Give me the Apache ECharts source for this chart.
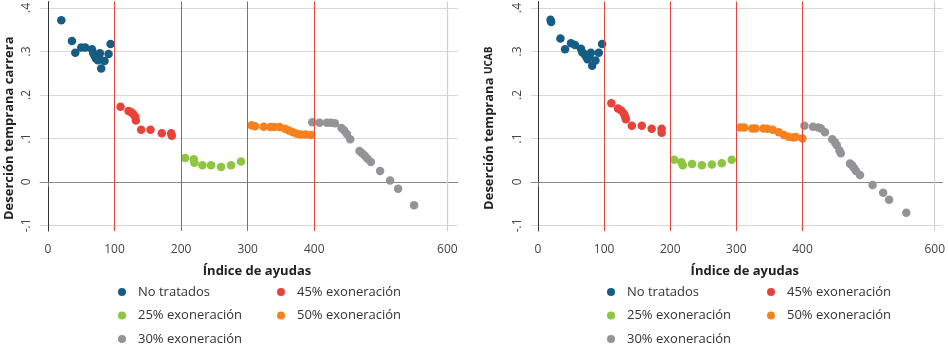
<!DOCTYPE html>
<html><head><meta charset="utf-8">
<script src="https://cdn.jsdelivr.net/npm/echarts@6/dist/echarts.min.js"></script>
<style>html,body{margin:0;padding:0;background:#fff}#c{width:948px;height:347px}</style>
</head><body><div id="c"></div>
<script>
// Left panel: Deserción temprana carrera  [Índice de ayudas, deserción]
const carreraNoTratados = [[20,0.372],[36,0.324],[41,0.297],[50,0.309],[56,0.309],[66,0.305],[68,0.296],[70,0.290],[72,0.284],[75,0.280],[77,0.286],[78,0.296],[80,0.261],[85,0.278],[91,0.294],[94,0.317]];
const carrera45 = [[109,0.173],[121,0.163],[125,0.160],[128,0.156],[131,0.150],[132,0.141],[140,0.120],[154,0.120],[171,0.112],[185,0.112],[186,0.106]];
const carrera25 = [[206,0.055],[219,0.052],[220,0.044],[232,0.038],[245,0.038],[260,0.034],[275,0.038],[290,0.047]];
const carrera50 = [[306,0.130],[311,0.128],[324,0.127],[334,0.126],[340,0.126],[348,0.126],[356,0.122],[362,0.118],[368,0.114],[374,0.111],[380,0.109],[387,0.109],[395,0.108]];
const carrera30 = [[397,0.137],[408,0.136],[419,0.136],[425,0.136],[431,0.135],[441,0.124],[445,0.118],[449,0.110],[454,0.098],[468,0.071],[472,0.066],[476,0.060],[480,0.053],[485,0.046],[499,0.025],[514,0.003],[526,-0.016],[550,-0.054]];
// Right panel: Deserción temprana UCAB
const ucabNoTratados = [[19,0.373],[20,0.368],[34,0.330],[41,0.305],[50,0.319],[56,0.315],[65,0.306],[67,0.298],[70,0.294],[73,0.288],[75,0.282],[78,0.291],[80,0.297],[82,0.267],[87,0.279],[92,0.297],[97,0.317]];
const ucab45 = [[111,0.181],[121,0.169],[126,0.164],[130,0.157],[132,0.150],[133,0.144],[142,0.129],[157,0.129],[172,0.122],[187,0.122],[187,0.113]];
const ucab25 = [[206,0.051],[217,0.045],[219,0.038],[233,0.041],[248,0.038],[263,0.040],[278,0.043],[293,0.051]];
const ucab50 = [[306,0.125],[312,0.125],[324,0.123],[329,0.123],[341,0.123],[347,0.122],[355,0.120],[364,0.114],[372,0.108],[379,0.104],[386,0.102],[390,0.103],[400,0.100]];
const ucab30 = [[403,0.129],[416,0.127],[424,0.125],[428,0.123],[434,0.114],[445,0.098],[449,0.091],[452,0.084],[456,0.072],[458,0.066],[472,0.042],[475,0.038],[478,0.032],[481,0.025],[487,0.016],[506,-0.007],[522,-0.025],[531,-0.041],[557,-0.071]];

const xTicks = [0,100,200,300,400,600];
const yTicks = [-0.1,0,0.1,0.2,0.3,0.4];
const cutoffs = [100,200,300,400];
const seriesNames = ['No tratados','45% exoneración','25% exoneración','50% exoneración','30% exoneración'];
const colors = {'No tratados':'#155d84','45% exoneración':'#e8433a','25% exoneración':'#8dc63f','50% exoneración':'#f5821f','30% exoneración':'#929497'};

const FONT = 'Open Sans';
const chart = echarts.init(document.getElementById('c'));

function xAxis(idx, name) {
  return {
    gridIndex: idx, type: 'value', min: idx===0 ? -12 : -10.5, max: idx===0 ? 616 : 612,
    name: name, nameLocation: 'middle', nameGap: 34,
    nameTextStyle: {fontFamily: FONT, fontWeight: 'bold', fontSize: 13, color: '#222', padding: [0,0,0,16]},
    axisLine: {show: true, lineStyle: {color: '#888', width: 1}},
    axisTick: {show: true, length: 5, customValues: xTicks, lineStyle: {color: '#777'}},
    axisLabel: {customValues: xTicks, fontFamily: FONT, fontSize: 12, color: '#444', margin: 13},
    splitLine: {show: false}
  };
}
function yAxis(idx, name, gap) {
  return {
    gridIndex: idx, type: 'value', min: -0.113, max: 0.415,
    name: name, nameLocation: 'middle', nameGap: gap,
    nameTextStyle: {fontFamily: FONT, fontWeight: 'bold', fontSize: 13, color: '#222', padding: [0,24,0,0],
      rich: {sc: {fontFamily: FONT, fontWeight: 'bold', fontSize: 10, color: '#222'}}},
    axisLine: {show: true, lineStyle: {color: '#333', width: 1}},
    axisTick: {show: false, customValues: yTicks},
    axisLabel: {customValues: yTicks, rotate: 90, fontFamily: FONT, fontSize: 12, color: '#444', margin: 7,
      formatter: v => String(v).replace('0.', '.')},
    splitLine: {show: true, lineStyle: {color: '#d8d8d8', width: 1.2}}
  };
}

const panels = [carreraNoTratados, carrera45, carrera25, carrera50, carrera30];
const panelsR = [ucabNoTratados, ucab45, ucab25, ucab50, ucab30];

function makeSeries(idx, arrs) {
  return arrs.map((d, i) => {
    const s = {
      name: seriesNames[i], type: 'scatter', xAxisIndex: idx, yAxisIndex: idx,
      data: d, symbolSize: 8.5, itemStyle: {color: colors[seriesNames[i]], opacity: 1}
    };
    if (i === 0) {
      s.markLine = {
        silent: true, symbol: 'none', label: {show: false}, animation: false,
        data: cutoffs.map(c => ({xAxis: c, lineStyle: {color: '#e8433a', width: 1, type: 'solid'}}))
          .concat([{xAxis: 600, lineStyle: {color: '#d0d0d0', width: 1.2, type: 'solid'}}])
      };
    }
    return s;
  });
}

function legend(left, names) {
  return {
    orient: 'vertical', left: left, top: 285, height: 80, padding: 0,
    itemWidth: 22, itemHeight: 8, itemGap: 9.5,
    icon: 'circle', data: names,
    textStyle: {fontFamily: FONT, fontSize: 13, color: '#333', lineHeight: 14}
  };
}

chart.setOption({
  animation: false,
  textStyle: {fontFamily: FONT},
  grid: [
    {left: 40, top: 1, width: 418, height: 230},
    {left: 531, top: 1, width: 414, height: 230}
  ],
  xAxis: [xAxis(0, 'Índice de ayudas'), xAxis(1, 'Índice de ayudas')],
  yAxis: [yAxis(0, 'Deserción temprana carrera', 24), yAxis(1, 'Deserción temprana {sc|UCAB}', 35)],
  legend: [
    legend(118, ['No tratados','25% exoneración','30% exoneración']),
    legend(277, ['45% exoneración','50% exoneración']),
    legend(607, ['No tratados','25% exoneración','30% exoneración']),
    legend(767, ['45% exoneración','50% exoneración'])
  ],
  series: makeSeries(0, panels).concat(makeSeries(1, panelsR))
});
</script></body></html>
